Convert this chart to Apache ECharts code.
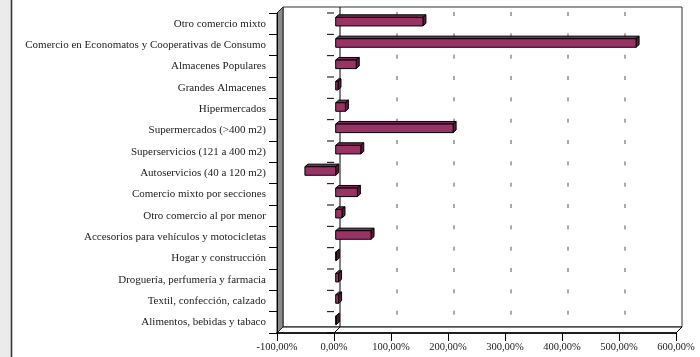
<!DOCTYPE html>
<html>
<head>
<meta charset="utf-8">
<script src="https://cdn.jsdelivr.net/npm/echarts@6/dist/echarts.min.js"></script>
<style>
  html, body { margin: 0; padding: 0; background: #fff; }
  #chart { width: 700px; height: 357px; }
</style>
</head>
<body>
<div id="chart"></div>
<script>
// Retail formats, listed bottom to top as on the category axis
const categories = [
  'Alimentos, bebidas y tabaco',
  'Textil, confección, calzado',
  'Droguería, perfumería y farmacia',
  'Hogar y construcción',
  'Accesorios para vehículos y motocicletas',
  'Otro comercio al por menor',
  'Comercio mixto por secciones',
  'Autoservicios (40 a 120 m2)',
  'Superservicios (121 a 400 m2)',
  'Supermercados (>400 m2)',
  'Hipermercados',
  'Grandes Almacenes',
  'Almacenes Populares',
  'Comercio en Economatos y Cooperativas de Consumo',
  'Otro comercio mixto'
];

// Percentage change for each format
const growth = [1, 5, 5, 1, 62, 11, 38, -54, 44, 206, 17, 4, 36, 527, 153];

// Value axis ticks (percent)
const axisMin = -100;
const axisMax = 600;
const axisStep = 100;

const FONT = '"Liberation Serif", "DejaVu Serif", serif';
const WALL = [6, -6];          // depth offset of the back wall
const BAR_OFF = [1.7, -2];     // bars sit slightly behind the front plane
const BAR_DEPTH = [3, -2.6];   // extrusion of each bar
const FRONT = '#993366', TOP = '#7d2953', SIDE = '#5a1c3a';

function pctLabel(v) {
  return v.toFixed(2).replace('.', ',') + '%';
}

// Box behind the bars: back wall, floor, side wall, grid and zero plane
function renderFrame(params, api) {
  const n = categories.length;
  const band = api.size([0, 1])[1];
  const xl = api.coord([axisMin, 0])[0];
  const xr = api.coord([axisMax, 0])[0];
  const x0 = api.coord([0, 0])[0];
  const yb = api.coord([0, 0])[1] + band / 2;
  const yt = api.coord([0, n - 1])[1] - band / 2;
  const dx = WALL[0], dy = WALL[1];
  const kids = [];

  kids.push({
    type: 'rect',
    shape: { x: xl + dx, y: yt + dy, width: xr - xl, height: yb - yt },
    style: { fill: '#fff', stroke: '#333', lineWidth: 1 }
  });

  for (let v = axisMin + axisStep; v < axisMax; v += axisStep) {
    if (v === 0) continue;
    const x = api.coord([v, 0])[0];
    kids.push({
      type: 'line',
      shape: { x1: x + dx, y1: yt + dy, x2: x + dx, y2: yb + dy },
      style: { stroke: '#555', lineWidth: 1, lineDash: [4, band - 4], lineDashOffset: band - 5 }
    });
    kids.push({
      type: 'line',
      shape: { x1: x, y1: yb, x2: x + dx, y2: yb + dy },
      style: { stroke: '#555', lineWidth: 1 }
    });
  }

  kids.push({
    type: 'polygon',
    shape: { points: [[xl, yb], [xl + dx, yb + dy], [xr + dx, yb + dy], [xr, yb]] },
    style: { fill: '#fff', stroke: '#000', lineWidth: 1 }
  });

  kids.push({
    type: 'line',
    shape: { x1: x0 + dx, y1: yt + dy, x2: x0 + dx, y2: yb + dy },
    style: { stroke: '#000', lineWidth: 1 }
  });
  kids.push({
    type: 'line',
    shape: { x1: x0, y1: yb, x2: x0 + dx, y2: yb + dy },
    style: { stroke: '#000', lineWidth: 1 }
  });

  for (let k = 0; k <= n; k++) {
    const y = yb - k * band;
    kids.push({
      type: 'line',
      shape: { x1: x0 - 7, y1: y, x2: x0, y2: y },
      style: { stroke: '#000', lineWidth: 1 }
    });
  }

  kids.push({
    type: 'polygon',
    shape: { points: [[xl, yt], [xl + dx, yt + dy], [xl + dx, yb + dy], [xl, yb]] },
    style: { fill: '#8a8a8a', stroke: '#222', lineWidth: 1 }
  });

  return { type: 'group', children: kids };
}

// Extruded horizontal bar from 0 to the value
function renderBar(params, api) {
  const i = api.value(0);
  const v = api.value(1);
  const a = api.coord([0, i]);
  const b = api.coord([v, i]);
  const band = api.size([0, 1])[1];
  const h = band * 0.4;
  const x0 = Math.min(a[0], b[0]) + BAR_OFF[0];
  const x1 = Math.max(a[0], b[0]) + BAR_OFF[0];
  const yc = a[1] + BAR_OFF[1];
  const top = yc - h / 2, bot = yc + h / 2;
  const ddx = BAR_DEPTH[0], ddy = BAR_DEPTH[1];
  const line = { stroke: '#000', lineWidth: 1 };
  return {
    type: 'group',
    children: [
      { type: 'polygon', shape: { points: [[x0, top], [x0 + ddx, top + ddy], [x1 + ddx, top + ddy], [x1, top]] },
        style: Object.assign({ fill: TOP }, line) },
      { type: 'polygon', shape: { points: [[x1, top], [x1 + ddx, top + ddy], [x1 + ddx, bot + ddy], [x1, bot]] },
        style: Object.assign({ fill: SIDE }, line) },
      { type: 'rect', shape: { x: x0, y: top, width: x1 - x0, height: h },
        style: Object.assign({ fill: FRONT }, line) }
    ]
  };
}

const chart = echarts.init(document.getElementById('chart'), null, { renderer: 'canvas' });

chart.setOption({
  animation: false,
  backgroundColor: '#fff',
  graphic: [
    { type: 'rect', shape: { x: 0, y: 0, width: 11, height: 357 }, style: { fill: '#ebebeb' }, z: 0 },
    { type: 'line', shape: { x1: 11.5, y1: 0, x2: 11.5, y2: 357 }, style: { stroke: '#3a3a3a', lineWidth: 1.6 }, z: 0 }
  ],
  grid: { left: 277, top: 13, right: 24, bottom: 24 },
  xAxis: {
    type: 'value',
    min: axisMin,
    max: axisMax,
    interval: axisStep,
    z: 10,
    axisLine: { show: true, onZero: false, lineStyle: { color: '#000', width: 1.5 } },
    axisTick: { show: true, length: 8, lineStyle: { color: '#000', width: 1 } },
    splitLine: { show: false },
    axisLabel: {
      formatter: pctLabel,
      margin: 9,
      fontFamily: FONT,
      fontSize: 10.5,
      color: '#222'
    }
  },
  yAxis: {
    type: 'category',
    data: categories,
    z: 10,
    axisLine: { show: true, onZero: false, lineStyle: { color: '#000', width: 1 } },
    axisTick: { show: true, length: 8, lineStyle: { color: '#000', width: 1 } },
    splitLine: { show: false },
    axisLabel: {
      margin: 11,
      fontFamily: FONT,
      fontSize: 11,
      color: '#222'
    }
  },
  series: [
    {
      type: 'custom',
      name: 'frame',
      silent: true,
      z: 1,
      data: [[0, 0]],
      encode: { x: 1, y: 0 },
      renderItem: renderFrame
    },
    {
      type: 'custom',
      name: 'Variación',
      z: 3,
      data: growth.map((v, i) => [i, v]),
      encode: { x: 1, y: 0 },
      renderItem: renderBar
    }
  ]
});
</script>
</body>
</html>
